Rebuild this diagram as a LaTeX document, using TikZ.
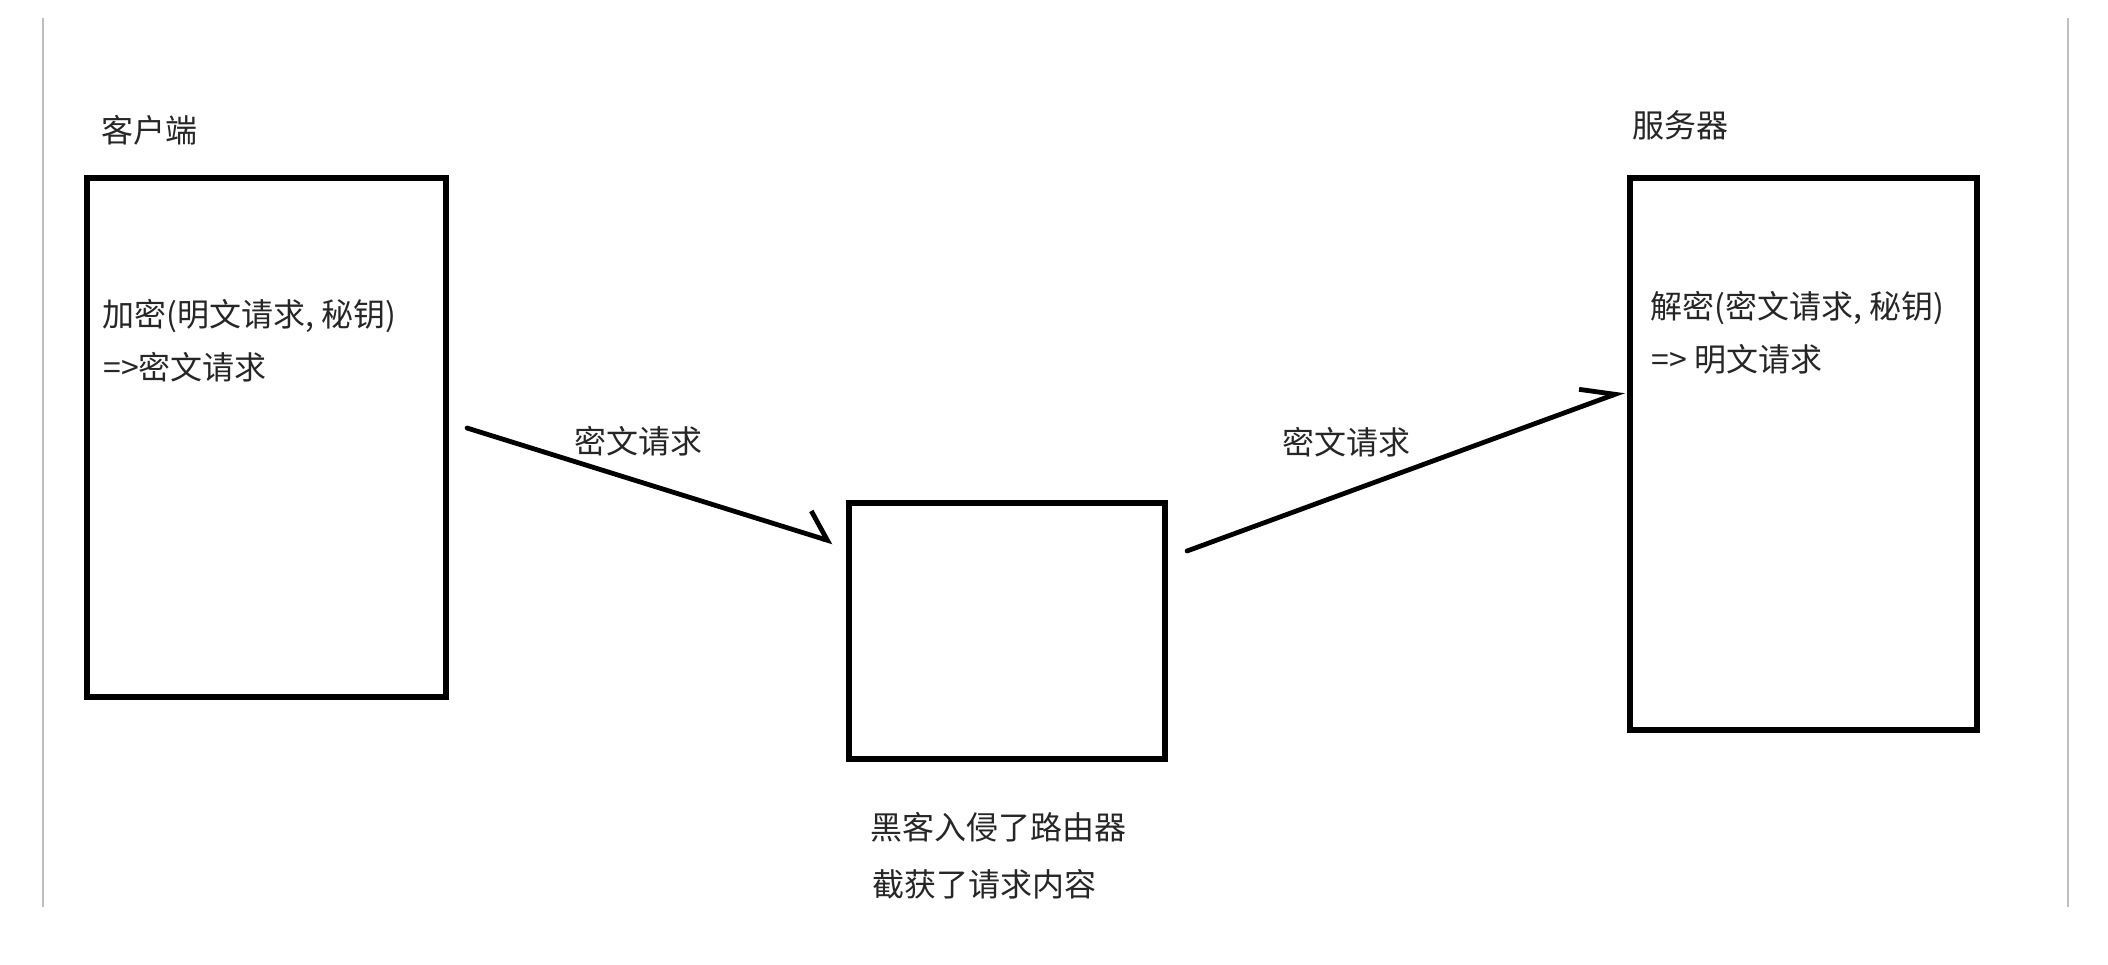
\documentclass[tikz,border=0pt]{standalone}
\usepackage{fontspec}
\newfontfamily\cjk{Noto Sans CJK SC}
\usetikzlibrary{arrows.meta,calc}

\begin{document}
\begin{tikzpicture}[x=0.5pt,y=-0.5pt,
  box/.style={draw, line width=3pt, inner sep=0pt},
  txt/.style={font=\cjk\fontsize{16}{19}\selectfont, text=black!85, inner sep=0pt, anchor=west},
  msg/.style 2 args={line width=2.4pt, line cap=round,
    -{Straight Barb[left,length=#1,angle'=#2]}}]

  % screenshot canvas
  \useasboundingbox (0,0) rectangle (2108,964);
  \draw[black!25, line width=0.6pt] (43,18) -- (43,907);
  \draw[black!25, line width=0.6pt] (2068,18) -- (2068,907);

  % the three parties
  \node[box, minimum width=179.5pt, minimum height=259.5pt] (client) at (266.5,437.5) {};
  \node[box, minimum width=158pt, minimum height=128pt] (router) at (1007,631) {};
  \node[box, minimum width=173.5pt, minimum height=276pt] (server) at (1803.5,454) {};

  % titles
  \node[txt] (clientname) at (101,130) {客户端};
  \node[txt] (servername) at (1632,125) {服务器};

  % what each side does
  \node[txt] (enc) at (102,316) {加密(明文请求, 秘钥)};
  \node[txt] (encout) at (103,367) {=>密文请求};
  \node[txt] (dec) at (1650,308) {解密(密文请求, 秘钥)};
  \node[txt] (decout) at (1651,359) {=> 明文请求};

  % note under the router
  \node[txt] (hack1) at (870,827) {黑客入侵了路由器};
  \node[txt] (hack2) at (872,884) {截获了请求内容};

  % ciphertext: client -> router -> server
  \draw[msg={12pt}{88}] ($(client.east)+(18,-9.5)$) -- ($(router.west)+(-13,-89)$);
  \draw[msg={16pt}{56}] ($(router.east)+(19,-80)$) -- ($(server.west)+(-3,-63)$);

  % labels over the arrows
  \node[txt] (msg1) at (574,441) {密文请求};
  \node[txt] (msg2) at (1282,442) {密文请求};
\end{tikzpicture}
\end{document}
